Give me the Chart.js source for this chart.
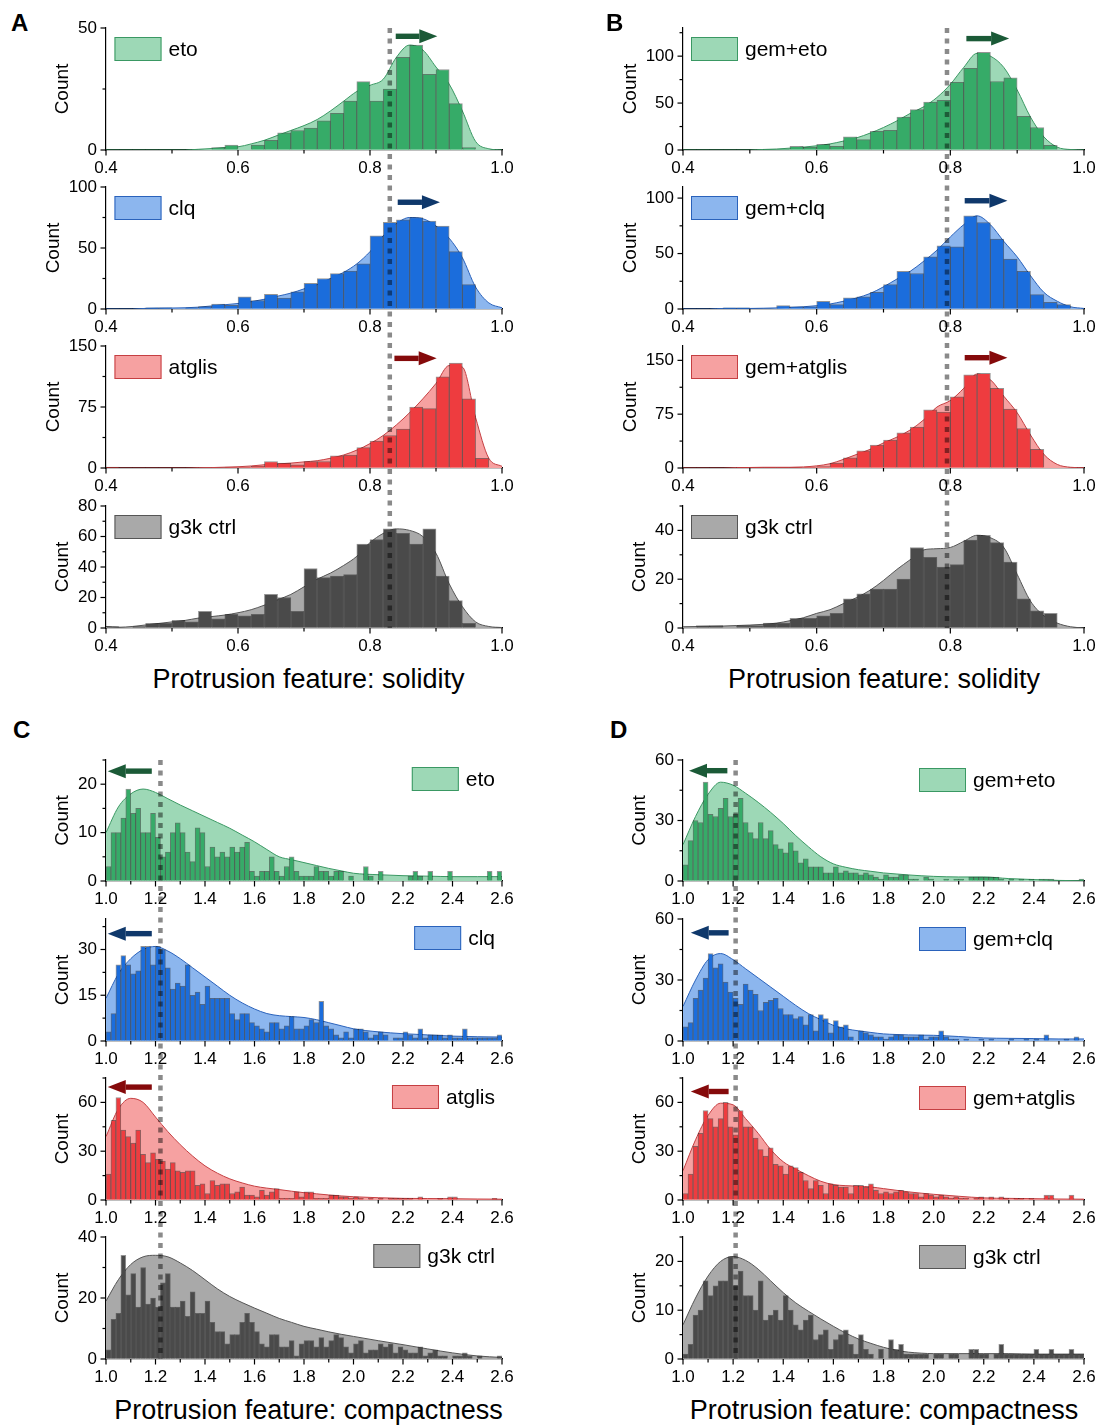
<!DOCTYPE html>
<html>
<head>
<meta charset="utf-8">
<script src="https://cdn.jsdelivr.net/npm/chart.js@4.4.1/dist/chart.umd.min.js"></script>
<style>
html,body{margin:0;padding:0;background:#fff;overflow:hidden;}
body{width:1101px;height:1425px;position:relative;font-family:"Liberation Sans",Arial,Helvetica,sans-serif;color:#000;}
canvas{position:absolute;}
.pl{position:absolute;font-weight:bold;font-size:24px;line-height:24px;z-index:5;}
.xt{position:absolute;font-size:27px;line-height:27px;text-align:center;white-space:nowrap;z-index:5;}
</style>
</head>
<body>
<div class="pl" style="left:11px;top:11px">A</div>
<div class="pl" style="left:606px;top:11px">B</div>
<div class="pl" style="left:13px;top:718px">C</div>
<div class="pl" style="left:610px;top:718px">D</div>
<div class="xt" style="left:0px;width:617px;top:666px">Protrusion feature: solidity</div>
<div class="xt" style="left:683px;width:402px;top:666px">Protrusion feature: solidity</div>
<div class="xt" style="left:0px;width:617px;top:1397px">Protrusion feature: compactness</div>
<div class="xt" style="left:683px;width:402px;top:1397px">Protrusion feature: compactness</div>
<script>
// ---------------- DATA ----------------
const labelsSingle = ['eto', 'clq', 'atglis', 'g3k ctrl'];
const labelsGem = ['gem+eto', 'gem+clq', 'gem+atglis', 'g3k ctrl'];

// solidity histogram bin centres (bin width 0.02)
const solidityBins = [0.41,0.43,0.45,0.47,0.49,0.51,0.53,0.55,0.57,0.59,0.61,0.63,0.65,0.67,0.69,0.71,0.73,0.75,0.77,0.79,0.81,0.83,0.85,0.87,0.89,0.91,0.93,0.95,0.97,0.99];
const solidityKdeX = [0.40,0.42,0.44,0.46,0.48,0.50,0.52,0.54,0.56,0.58,0.60,0.62,0.64,0.66,0.68,0.70,0.72,0.74,0.76,0.78,0.80,0.82,0.84,0.86,0.88,0.90,0.92,0.94,0.96,0.98,1.00];
const solidityTickLabels = [0.4, 0.6, 0.8, 1.0];

// compactness histogram bin centres (bin width 0.02)
const compactBins = [1.01,1.03,1.05,1.07,1.09,1.11,1.13,1.15,1.17,1.19,
  1.21,1.23,1.25,1.27,1.29,1.31,1.33,1.35,1.37,1.39,
  1.41,1.43,1.45,1.47,1.49,1.51,1.53,1.55,1.57,1.59,
  1.61,1.63,1.65,1.67,1.69,1.71,1.73,1.75,1.77,1.79,
  1.81,1.83,1.85,1.87,1.89,1.91,1.93,1.95,1.97,1.99,
  2.01,2.03,2.05,2.07,2.09,2.11,2.13,2.15,2.17,2.19,
  2.21,2.23,2.25,2.27,2.29,2.31,2.33,2.35,2.37,2.39,
  2.41,2.43,2.45,2.47,2.49,2.51,2.53,2.55,2.57,2.59];
const compactKdeX = [1.00,1.05,1.10,1.15,1.20,1.25,1.30,1.35,1.40,1.45,1.50,1.55,1.60,1.65,1.70,1.75,1.80,1.85,1.90,1.95,2.00,2.10,2.20,2.30,2.40,2.50,2.60];
const compactTickLabels = [1.0, 1.2, 1.4, 1.6, 1.8, 2.0, 2.2, 2.4, 2.6];

// Panel A: solidity, single treatments
const A_eto    = [0,0,0,0,0,0,0,0,1,2,0,2,4,7,8,9,12,15,20,28,20,25,38,43,31,33,19,1,0,0];
const A_clq    = [0,0,0,1,1,0,1,2,4,3,10,7,12,9,14,21,25,29,31,37,60,71,73,75,72,68,47,20,0,0];
const A_atglis = [1,0,0,0,0,0,0,0,0,1,1,2,8,6,4,8,8,15,16,25,33,40,48,75,73,112,129,85,12,0];
const A_g3k    = [1,0,1,3,3,5,4,11,6,9,8,9,22,20,11,39,33,34,35,55,58,65,62,55,65,34,18,3,0,0];
const A_eto_kde    = [0,0,0,0,0,0,0,0.3,0.6,1,1.3,2.5,4,6,8,10,12.5,16,20,24,26.5,29,38,43,41,34,27,16,3.5,0.5,0];
const A_clq_kde    = [0,0,0,0.5,0.7,0.8,1,1.5,2.5,3.5,4.5,6,8,10.5,13,16.5,20,25,30,37,47,60,70,75,74,68,58,42,18,5,1];
const A_atglis_kde = [0,0,0,0,0,0,0,0.3,0.5,1,1.5,2.5,4,5,6,7.5,9,12,16,22,30,40,53,68,85,104,126,124,62,12,2];
const A_g3k_kde    = [1,0.5,1,2,3,4,5,6.5,7.5,8.5,10,12,15,18.5,22,27,32,36,41,47,56,62,65,64,60,49,29,14,4,1,0.3];

// Panel B: solidity, gemcitabine combinations
const B_eto    = [0,0,0,0,0,0,1,1,4,3,6,4,14,11,20,21,35,43,51,53,72,87,104,73,77,36,24,5,0,0];
const B_clq    = [0,0,0,1,1,0,0,3,2,2,7,4,10,11,15,22,34,32,47,57,56,84,78,63,45,34,13,6,4,0];
const B_atglis = [0,0,0,0,1,1,1,1,1,1,2,7,14,24,32,39,49,57,81,78,99,130,132,111,82,55,26,0,0,0];
const B_g3k    = [0,1,1,0,1,1,2,2,4,4,5,6,12,14,16,16,20,33,29,25,26,36,38,35,27,12,7,6,0,0];
const B_eto_kde    = [0,0,0,0,0,0,0.5,1,2,3,4.5,6.5,9.5,13,18,24,31,39,46,56,70,88,103,100,88,64,35,14,3,0.5,0];
const B_clq_kde    = [0,0,0,0.5,0.5,0.5,0.7,1,1.5,2,3,4.5,7,10,14,20,27,34,43,53,65,76,84,76,61,47,30,15,7,2,0.5];
const B_atglis_kde = [0,0,0,0,0.5,0.7,1,1,1,1.5,3,6,12,19,26,35,43,53,67,85,94,111,131,123,100,77,46,19,5,1,0.3];
const B_g3k_kde    = [0.5,0.6,0.7,0.8,1,1.2,1.5,2,3,4.2,6,7.5,10,12.5,15.5,19.5,24,28,32,32.5,33,35.5,38,37,33,22,11,5,2,0.5,0];

// Panel C: compactness, single treatments
const C_eto = [3,10,10,13,19,14,15,10,10,14, 9,5,6,10,12,10,6,4,11,10, 3,7,5,6,5,7,6,7,8,2, 1,2,2,5,2,1,3,5,2,1,
  1,1,3,2,2,1,2,2,0,1, 0,0,3,1,0,2,0,0,0,0, 0,1,2,1,0,2,0,0,0,2, 0,0,0,0,0,0,0,2,0,2];
const C_clq = [3,9,25,28,25,22,23,31,31,25, 31,30,24,17,19,18,25,15,16,12, 18,14,14,14,14,9,7,9,9,6, 5,4,3,6,6,4,5,8,4,4,
  5,7,6,13,5,4,2,1,3,1, 4,4,3,1,2,3,2,0,1,1, 3,2,1,4,1,2,2,2,1,2, 1,1,4,1,1,1,1,1,1,2];
const C_atglis = [16,49,63,43,39,35,43,28,23,29, 25,24,19,23,18,17,18,18,9,10, 4,12,9,10,10,4,5,8,3,3, 2,6,3,5,7,1,1,1,5,2,
  5,5,1,1,1,3,3,2,2,1, 2,1,0,1,0,1,0,1,1,1, 1,1,0,2,0,0,0,1,0,2, 2,0,0,0,0,0,0,0,1,0];
const C_g3k = [3,13,15,34,21,28,17,30,18,20, 17,25,28,17,17,19,14,22,15,15, 19,12,9,9,5,8,8,12,15,12, 9,5,4,8,8,4,4,6,1,5,
  6,6,4,7,4,6,8,7,4,2, 5,6,2,3,3,5,4,5,2,4, 3,2,2,4,1,2,3,1,1,0, 1,1,2,1,0,1,0,0,0,1];
const C_eto_kde    = [10,15.3,18,19,18.3,17,15.7,14.5,13.3,12.1,10.9,9.5,8.1,6.5,5,4.4,3.8,3.2,2.6,2.1,1.6,1.3,1.1,1,0.9,0.9,0.9];
const C_clq_kde    = [14,22,27,30,31,29.5,27,24,21,18,15,12.5,10.5,9,8.3,8,7.7,7,6,5,4,3,2.4,2,1.6,1.4,1.3];
const C_atglis_kde = [39,56,62.5,60,51,42,34,27,21,16.5,13,10.5,8.5,7.3,6.4,5.4,4.5,3.8,3.1,2.5,2,1.4,1,0.9,0.8,0.6,0.5];
const C_g3k_kde    = [19,26,31,33.5,34,33.5,31.5,29,26,23,20.5,18.5,16.7,15,13.3,12,10.7,9.8,8.9,8.1,7.4,6,4.7,3.3,2,1,0.5];

// Panel D: compactness, gemcitabine combinations
const D_eto = [8,20,30,29,49,33,32,36,41,32, 33,41,29,24,21,29,21,25,18,16, 14,19,15,9,11,7,7,7,4,4, 7,4,5,4,4,3,4,3,2,1,
  3,2,2,3,3,1,1,0,2,1, 0,0,1,0,1,1,0,2,2,2, 2,2,2,1,0,1,0,1,0,1, 0,1,1,1,0,0,0,0,0,1];
const D_clq = [7,9,21,25,31,43,36,38,29,24, 21,18,28,25,23,15,19,20,21,16, 13,13,11,12,8,13,5,13,11,4, 10,7,8,2,0,5,4,3,2,2,
  1,2,3,3,2,2,2,3,1,2, 2,5,2,1,1,0,1,0,0,1, 0,1,0,0,0,1,0,0,1,0, 1,0,3,0,0,0,1,0,2,0];
const D_atglis = [4,16,33,41,55,50,45,50,60,45, 40,55,45,45,38,31,27,32,22,21, 16,21,20,17,12,7,12,9,4,10, 9,8,8,4,9,9,8,10,6,4,
  5,4,5,6,5,4,4,2,4,3, 2,3,2,1,2,1,1,0,1,2, 0,2,0,2,1,0,1,1,0,1, 0,0,3,3,0,0,0,3,0,0];
const D_g3k = [1,3,9,10,16,13,15,16,16,21, 15,18,13,13,10,16,8,9,10,8, 13,10,7,6,8,9,4,5,6,2, 4,5,6,3,1,5,2,1,0,2,
  0,4,2,3,1,1,1,1,1,0, 1,1,0,1,1,0,0,2,2,1, 1,0,1,3,1,1,1,1,1,1, 2,1,1,2,1,1,1,2,1,1];
const D_eto_kde    = [18,32,43,49,47.5,43.5,39,34,28.5,22.5,17,12,8.5,6.8,5.6,4.8,4,3.5,3,2.6,2.3,2,2,1.2,0.7,0.3,0.1];
const D_clq_kde    = [17,30,40,43,40,35.5,31,26.5,22,17.5,13.5,10.5,7.7,6,5,4.2,3.5,3.2,3,2.9,2.8,2.2,1.5,1.3,1.2,1,1];
const D_atglis_kde = [18,37,52,59.5,58.5,50,41,31,23.5,19,15,11.5,9.5,8.8,8.5,8,7,6,5,4.2,3.5,2.3,1.3,1,0.8,0.6,0.5];
const D_g3k_kde    = [7,12.5,17,20,21,20.2,18.4,16,13.6,11.5,9.8,8.2,6.7,5.3,4.1,3.2,2.4,1.8,1.4,1.2,1.1,1.1,1.1,1.1,1,1,1];

// threshold (dashed line) per panel
const cutA = 0.83, cutB = 0.795, cutC = 1.22, cutD = 1.21;
// arrows: [tail x, head x, y] in data units
const arrowsA = [[0.839,0.902,46.6],[0.842,0.906,87.5],[0.837,0.901,134.8],null];
const arrowsB = [[0.824,0.888,118.7],[0.8215,0.8854,97.6],[0.8215,0.8854,153.7],null];
const arrowsC = [[1.185,1.007,22.7],[1.185,1.007,35.2],[1.185,1.007,69.4],null];
const arrowsD = [[1.177,1.024,54.7],[1.182,1.031,53.2],[1.182,1.031,66.7],null];
// y axes: [max, minor step, labelled step]
const yAxesA = [[50,25,50],[100,25,50],[150,37.5,75],[80,10,20]];
const yAxesB = [[130,25,50],[110,25,50],[170,37.5,75],[50,10,20]];
const yAxesC = [[25,5,10],[40,7.5,15],[75,15,30],[40,10,20]];
const yAxesD = [[60,15,30],[60,15,30],[75,15,30],[25,5,10]];

// ---------------- STYLE / LAYOUT ----------------
const FONT = '"Liberation Sans", Arial, Helvetica, sans-serif';
const TICK_SIZE = 17;
Chart.defaults.font.family = FONT;
Chart.defaults.color = '#000';
const palette = [
  {bar:'#36ab68', fill:'#9dd8b6', line:'#3a9863', arrow:'#1b5a37'},
  {bar:'#1b6ddc', fill:'#8cb6ee', line:'#2a62bb', arrow:'#0f386b'},
  {bar:'#ee3c3f', fill:'#f6a1a1', line:'#c53f42', arrow:'#850a0b'},
  {bar:'#4a4a4a', fill:'#a9a9a9', line:'#555555', arrow:'#333333'}
];
const panels = [
  {canvasLeft:30, canvasW:500, chartLeft:106, chartRight:502, tops:[28,187,346,506], hs:[122,122,122,122],
   xMin:0.4, xMax:1.0, bins:solidityBins, kdeX:solidityKdeX, xTicks:solidityTickLabels, cut:cutA, labels:labelsSingle,
   bars:[A_eto,A_clq,A_atglis,A_g3k], kde:[A_eto_kde,A_clq_kde,A_atglis_kde,A_g3k_kde], yAxes:yAxesA, arrows:arrowsA,
   legend:{align:'left', dx:8.5, dy:9}},
  {canvasLeft:610, canvasW:491, chartLeft:683, chartRight:1084, tops:[28,187,346,506], hs:[122,122,122,122],
   xMin:0.4, xMax:1.0, bins:solidityBins, kdeX:solidityKdeX, xTicks:solidityTickLabels, cut:cutB, labels:labelsGem,
   bars:[B_eto,B_clq,B_atglis,B_g3k], kde:[B_eto_kde,B_clq_kde,B_atglis_kde,B_g3k_kde], yAxes:yAxesB, arrows:arrowsB,
   legend:{align:'left', dx:8, dy:9}},
  {canvasLeft:30, canvasW:500, chartLeft:106, chartRight:502, tops:[760,919,1078,1237], hs:[121,122,122,122],
   xMin:1.0, xMax:2.6, bins:compactBins, kdeX:compactKdeX, xTicks:compactTickLabels, cut:cutC, labels:labelsSingle,
   bars:[C_eto,C_clq,C_atglis,C_g3k], kde:[C_eto_kde,C_clq_kde,C_atglis_kde,C_g3k_kde], yAxes:yAxesC, arrows:arrowsC,
   legend:{align:'right', dx:7, dy:7}},
  {canvasLeft:610, canvasW:491, chartLeft:683, chartRight:1084, tops:[760,919,1078,1237], hs:[121,122,122,122],
   xMin:1.0, xMax:2.6, bins:compactBins, kdeX:compactKdeX, xTicks:compactTickLabels, cut:cutD, labels:labelsGem,
   bars:[D_eto,D_clq,D_atglis,D_g3k], kde:[D_eto_kde,D_clq_kde,D_atglis_kde,D_g3k_kde], yAxes:yAxesD, arrows:arrowsD,
   legend:{align:'left', dx:236, dy:8}}
];
const PAD_TOP = 11;

function isOn(v, step){ const r = v/step; return Math.abs(r - Math.round(r)) < 1e-6; }
function inList(v, list){ return list.some(t => Math.abs(t - v) < 1e-6); }

function makeAnnot(a){
  return {
    id: 'annot',
    afterDraw(chart){
      const ctx = chart.ctx, ca = chart.chartArea, xs = chart.scales.x, ys = chart.scales.y;
      // tick marks (major longer than minor)
      ctx.save();
      ctx.strokeStyle = '#000'; ctx.lineWidth = 1.2;
      xs.ticks.forEach(t => {
        const px = xs.getPixelForValue(t.value);
        const L = t.label ? 5.5 : 3.5;
        ctx.beginPath(); ctx.moveTo(px, ca.bottom); ctx.lineTo(px, ca.bottom + L); ctx.stroke();
      });
      ys.ticks.forEach(t => {
        const py = ys.getPixelForValue(t.value);
        const L = t.label ? 5.5 : 3.5;
        ctx.beginPath(); ctx.moveTo(ca.left, py); ctx.lineTo(ca.left - L, py); ctx.stroke();
      });
      ctx.restore();
      // y-axis title
      ctx.save();
      ctx.font = TICK_SIZE + 'px ' + FONT;
      let maxW = 0;
      ys.ticks.forEach(t => { if (t.label) maxW = Math.max(maxW, ctx.measureText(String(t.label)).width); });
      const cx = ca.left - 9 - maxW - 5 - 10;
      ctx.translate(cx, (ca.top + ca.bottom) / 2);
      ctx.rotate(-Math.PI / 2);
      ctx.font = '19px ' + FONT;
      ctx.fillStyle = '#000'; ctx.textAlign = 'center'; ctx.textBaseline = 'middle';
      ctx.fillText('Count', 0, 0);
      ctx.restore();
      // legend
      ctx.save();
      ctx.font = '21px ' + FONT;
      const tw = ctx.measureText(a.label).width;
      const bw = 47, bh = 24, gap = 7;
      const bx = a.legend.align === 'right' ? ca.right - a.legend.dx - tw - gap - bw : ca.left + a.legend.dx;
      const by = ca.top + a.legend.dy;
      ctx.fillStyle = a.pal.fill; ctx.fillRect(bx, by, bw, bh);
      ctx.strokeStyle = a.pal.line; ctx.lineWidth = 1; ctx.strokeRect(bx + 0.5, by + 0.5, bw - 1, bh - 1);
      ctx.fillStyle = '#000'; ctx.textAlign = 'left'; ctx.textBaseline = 'middle';
      ctx.fillText(a.label, bx + bw + gap, by + bh / 2 + 1);
      ctx.restore();
      // arrow
      if (a.arrow){
        ctx.save();
        const tx = xs.getPixelForValue(a.arrow[0]), hx = xs.getPixelForValue(a.arrow[1]), y = ys.getPixelForValue(a.arrow[2]);
        const d = Math.sign(hx - tx), hl = 18, hh = 7, st = 2.7;
        const base = hx - d * hl;
        ctx.fillStyle = a.pal.arrow;
        ctx.fillRect(Math.min(tx, base), y - st, Math.abs(base - tx), 2 * st);
        ctx.beginPath(); ctx.moveTo(hx, y); ctx.lineTo(base, y - hh); ctx.lineTo(base, y + hh); ctx.closePath(); ctx.fill();
        ctx.restore();
      }
      // dashed threshold line, continuous across stacked plots
      ctx.save();
      const x = xs.getPixelForValue(a.cut);
      const y0 = a.first ? ca.top : 0, y1 = a.last ? ca.bottom : chart.height;
      const dash = [5, 5.5], period = 10.5;
      const phase = (((a.canvasTop + y0 - a.lineStart) % period) + period) % period;
      ctx.setLineDash(dash); ctx.lineDashOffset = phase;
      ctx.strokeStyle = 'rgba(0,0,0,0.46)'; ctx.lineWidth = 4.5;
      ctx.beginPath(); ctx.moveTo(x, y0); ctx.lineTo(x, y1); ctx.stroke();
      ctx.restore();
    }
  };
}

panels.forEach(p => {
  for (let i = 0; i < 4; i++){
    const top = p.tops[i], h = p.hs[i];
    const canvasTop = top - PAD_TOP;
    const canvasH = i < 3 ? (p.tops[i+1] - top) : (PAD_TOP + h + 34);
    const xH = canvasH - PAD_TOP - h;
    const cv = document.createElement('canvas');
    cv.width = p.canvasW; cv.height = canvasH;
    cv.style.left = p.canvasLeft + 'px'; cv.style.top = canvasTop + 'px';
    cv.style.width = p.canvasW + 'px'; cv.style.height = canvasH + 'px';
    document.body.appendChild(cv);
    const pal = palette[i];
    const [yMax, yStep, yLab] = p.yAxes[i];
    const annot = {label:p.labels[i], pal, legend:p.legend, arrow:p.arrows[i], cut:p.cut,
      first:i===0, last:i===3, canvasTop, lineStart:p.tops[0]};
    new Chart(cv, {
      type: 'bar',
      data: {
        datasets: [
          {type:'bar', label:p.labels[i], data:p.bins.map((c,k)=>({x:c, y:p.bars[i][k]})),
           backgroundColor:pal.bar, borderColor:'rgba(0,0,0,0.42)', borderWidth:1,
           barPercentage:1, categoryPercentage:1, grouped:false, order:1},
          {type:'line', label:p.labels[i]+' KDE', data:p.kdeX.map((x,k)=>({x, y:p.kde[i][k]})),
           borderColor:pal.line, borderWidth:1, backgroundColor:pal.fill, fill:'origin',
           pointRadius:0, cubicInterpolationMode:'monotone', order:2}
        ]
      },
      options: {
        responsive:false, animation:false, events:[], devicePixelRatio:1,
        layout:{padding:{top:PAD_TOP, right:p.canvasLeft + p.canvasW - p.chartRight, bottom:0, left:0}},
        plugins:{legend:{display:false}, tooltip:{enabled:false}},
        scales:{
          x:{type:'linear', min:p.xMin, max:p.xMax, offset:false, z:1,
             grid:{display:true, drawOnChartArea:false, drawTicks:true, tickLength:8.5, tickColor:'rgba(0,0,0,0)', offset:false},
             border:{display:true, color:'#000', width:1.2},
             ticks:{stepSize:0.1, autoSkip:false, maxRotation:0, minRotation:0, padding:0, color:'#000', font:{size:TICK_SIZE},
                    includeBounds:false, callback:(v)=> inList(v, p.xTicks) ? v.toFixed(1) : ''},
             afterFit:(s)=>{ s.height = xH; }},
          y:{type:'linear', min:0, max:yMax, z:1,
             grid:{display:true, drawOnChartArea:false, drawTicks:true, tickLength:9, tickColor:'rgba(0,0,0,0)'},
             border:{display:true, color:'#000', width:1.2},
             ticks:{stepSize:yStep, includeBounds:false, autoSkip:false, padding:0, color:'#000', font:{size:TICK_SIZE},
                    callback:(v)=> isOn(v, yLab) ? String(v) : ''},
             afterFit:(s)=>{ s.width = p.chartLeft - p.canvasLeft; }}
        }
      },
      plugins:[makeAnnot(annot)]
    });
  }
});
</script>
</body>
</html>
